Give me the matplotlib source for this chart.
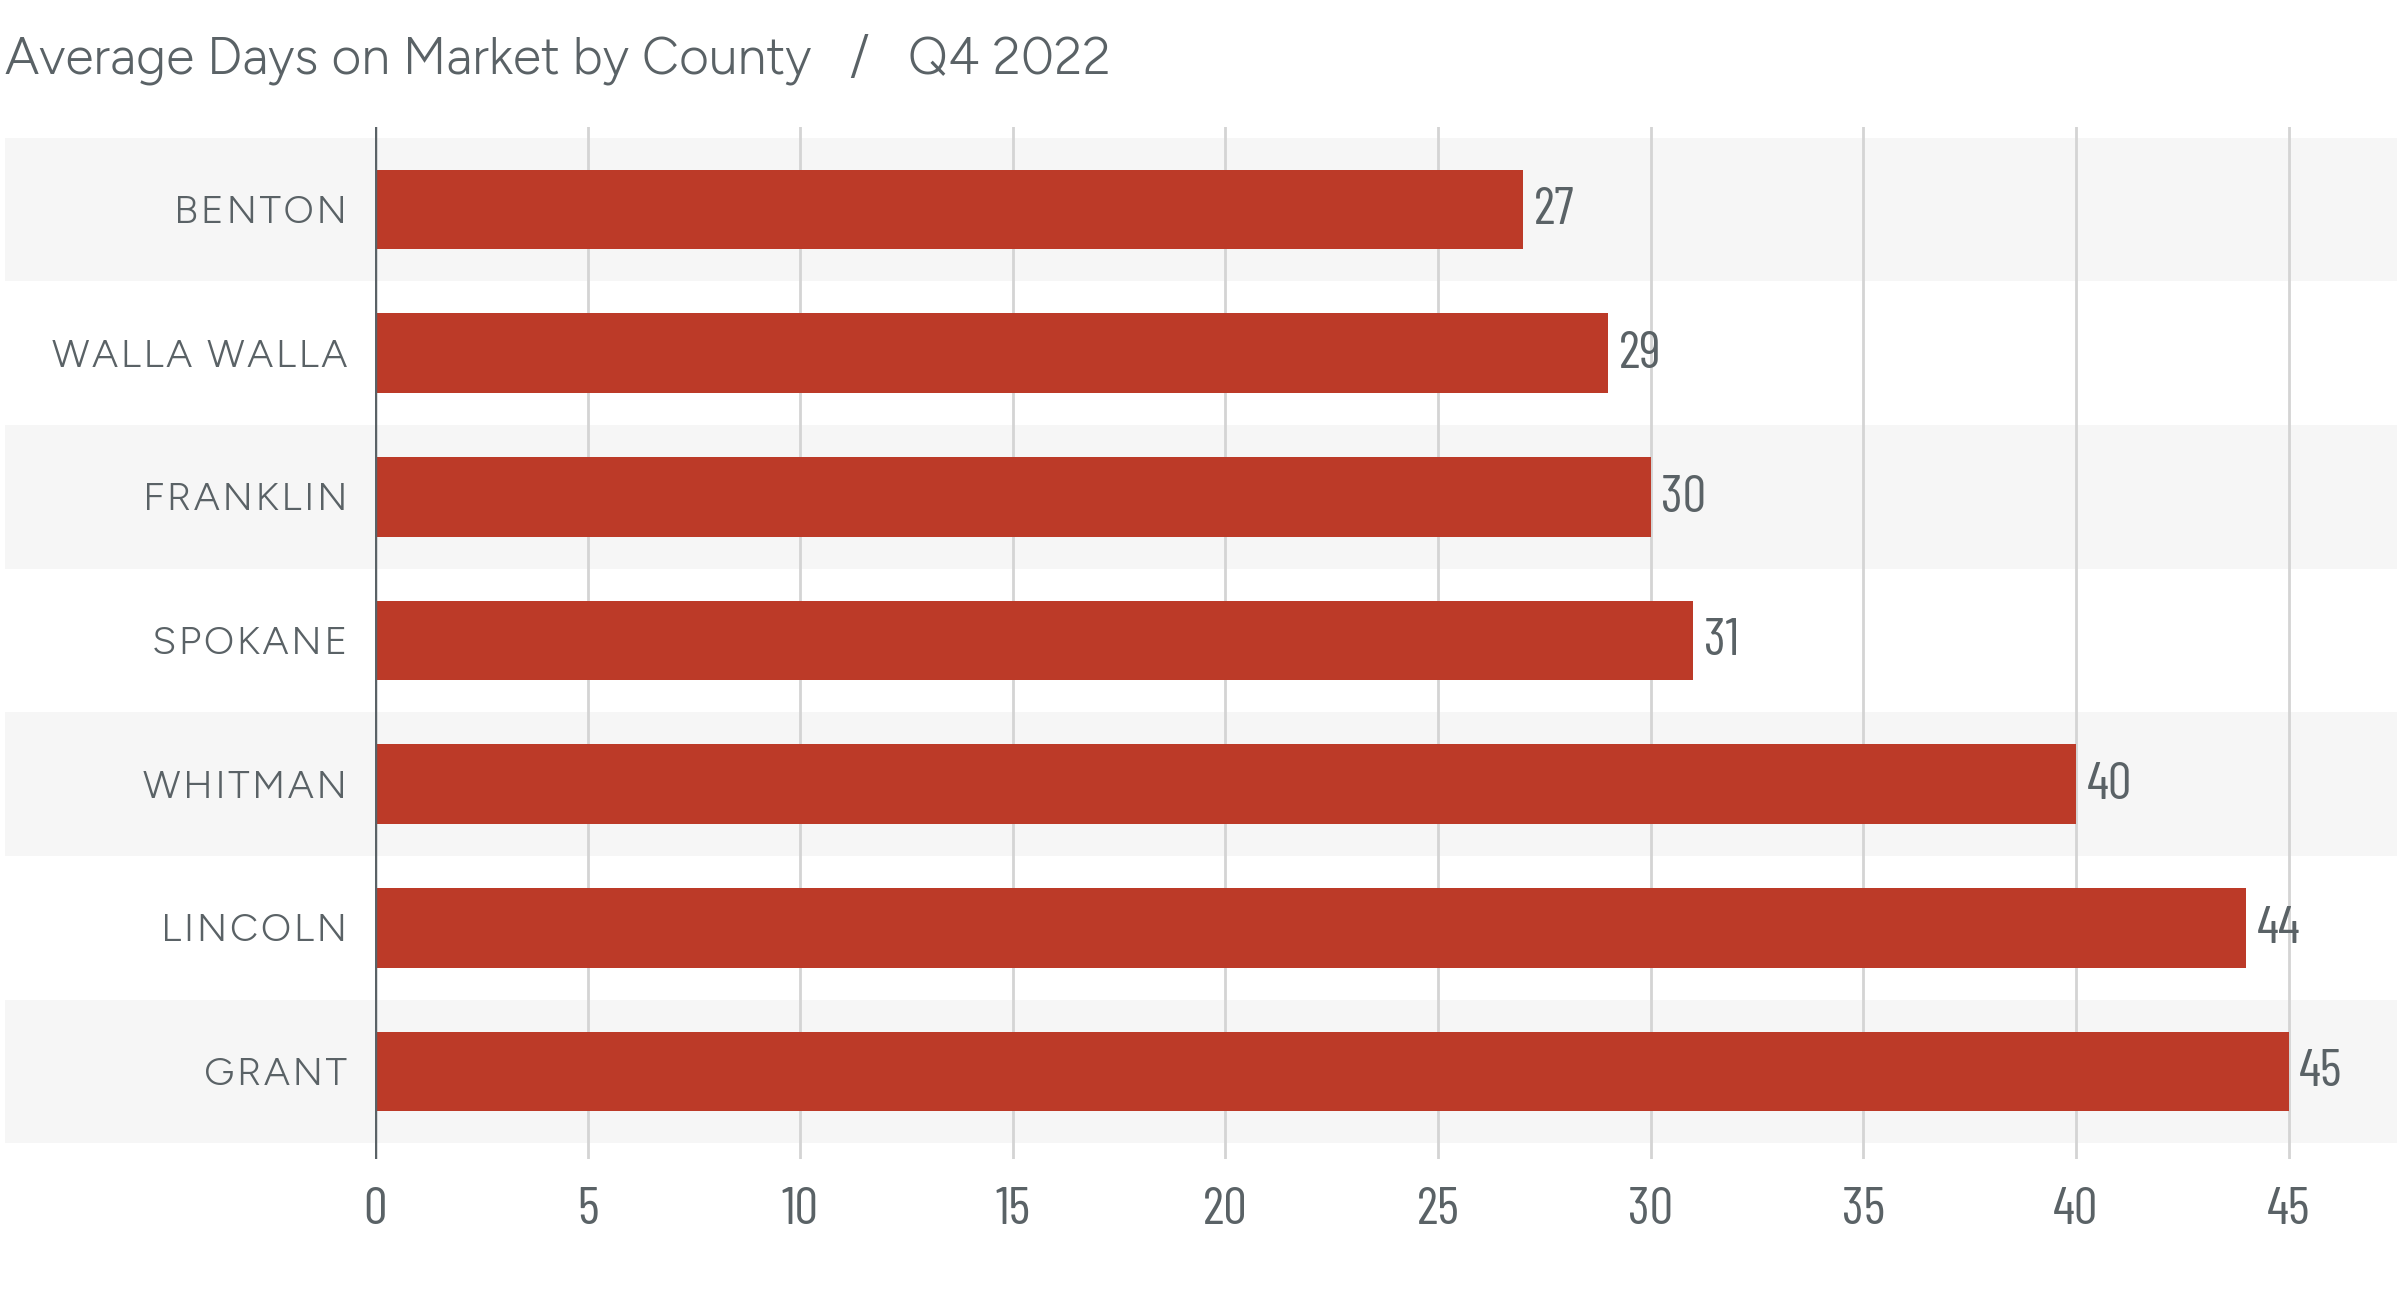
import matplotlib
matplotlib.use("Agg")
import matplotlib.pyplot as plt

counties = ["BENTON", "WALLA WALLA", "FRANKLIN", "SPOKANE", "WHITMAN", "LINCOLN", "GRANT"]
days = [27, 29, 30, 31, 40, 44, 45]
xticks = [0, 5, 10, 15, 20, 25, 30, 35, 40, 45]
title = "Average Days on Market by County   /   Q4 2022"

BAR = "#BC3A28"
BAND = "#F6F6F6"
TXT = "#5A6266"
GRID = "#D4D4D4"

SANS = ["Figtree", "Lato", "DejaVu Sans"]
COND = ["Barlow Condensed", "DejaVu Sans"]

fig = plt.figure(figsize=(12, 6.53), dpi=200)
ax = fig.add_axes([0.15625, 0.1125, 0.8425, 0.7903])

ypos = list(range(len(counties)))
for i in ypos:
    if i % 2 == 0:
        ax.axhspan(i - 0.5, i + 0.5, xmin=-0.183, xmax=1.0, color=BAND, zorder=0, clip_on=False, lw=0)

ax.barh(ypos, days, height=0.553, color=BAR, zorder=3)
ax.set_xlim(0, 47.55)
ax.set_ylim(6.61, -0.575)

for x in xticks[1:]:
    ax.axvline(x, color=GRID, lw=1.0, zorder=1)
ax.axvline(0, color=TXT, lw=1.6, zorder=4)

for sp in ax.spines.values():
    sp.set_visible(False)

ax.set_xticks(xticks)
ax.set_xticklabels([str(t) for t in xticks], family=COND, fontsize=19, color=TXT)
ax.tick_params(axis="x", length=0, pad=10)

def spaced(s):
    return "\u200a".join(s)

ax.set_yticks(ypos)
ax.set_yticklabels([spaced(c) for c in counties], family=SANS, fontsize=14.2, weight=500, color=TXT)
ax.tick_params(axis="y", length=0, pad=10)

for i, v in zip(ypos, days):
    ax.text(v + 0.25, i + 0.01, str(v), va="center", ha="left", family=COND,
            fontsize=19, color=TXT, zorder=5)

fig.text(0.002, 0.955, title, ha="left", va="center", family=SANS, fontsize=18.6, weight=500, color=TXT)

fig.savefig("out.png", dpi=200, facecolor="white")
